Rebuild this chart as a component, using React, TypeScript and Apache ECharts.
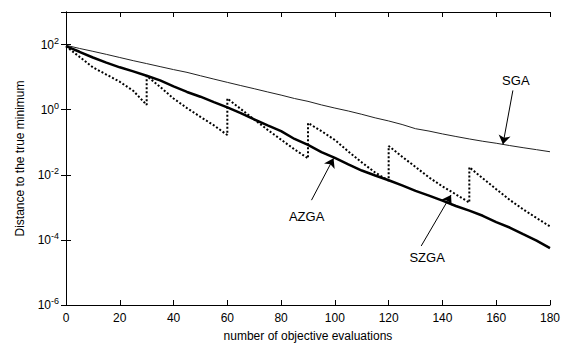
import React, { useEffect, useRef } from "react";
import * as echarts from "echarts";

// Evaluations (x) and distances to the true minimum (y)
const sgaEvals = [0, 5, 10, 15, 20, 25, 30, 35, 40, 45, 50, 55, 60, 65, 70, 75, 80, 85, 90, 95, 100, 105, 110, 115, 120, 125, 130, 135, 140, 145, 150, 155, 160, 165, 170, 175, 180];
const sgaValues = [95, 76, 62, 50, 40, 32, 26, 21, 17, 14, 11, 8.7, 6.9, 5.5, 4.4, 3.5, 2.8, 2.2, 1.8, 1.4, 1.12, 0.91, 0.72, 0.56, 0.45, 0.35, 0.26, 0.22, 0.18, 0.15, 0.126, 0.107, 0.093, 0.079, 0.068, 0.059, 0.051];

const azgaEvals = [0, 5, 10, 15, 20, 25, 30, 35, 40, 45, 50, 55, 60, 65, 70, 75, 80, 85, 90, 95, 100, 105, 110, 115, 120, 125, 130, 135, 140, 145, 150, 155, 160, 165, 170, 175, 180];
const azgaValues = [89, 60, 40, 28, 20, 15, 11, 7.9, 5.2, 3.5, 2.5, 1.7, 1.17, 0.78, 0.5, 0.33, 0.22, 0.126, 0.083, 0.05, 0.033, 0.021, 0.0135, 0.0095, 0.0068, 0.0047, 0.0032, 0.0023, 0.0016, 0.0011, 0.00079, 0.00055, 0.00035, 0.00024, 0.00015, 0.000095, 0.000056];

const szgaEvals = [0, 5, 10, 15, 20, 25, 30, 30, 35, 40, 45, 50, 55, 60, 60, 65, 70, 75, 80, 85, 90, 90, 95, 100, 105, 110, 115, 120, 120, 125, 130, 135, 140, 145, 150, 150, 155, 160, 165, 170, 175, 180];
const szgaValues = [89, 42, 20, 12, 7.2, 3.8, 1.4, 11, 5.0, 2.2, 1.12, 0.6, 0.33, 0.166, 2.2, 1.05, 0.5, 0.24, 0.12, 0.06, 0.032, 0.39, 0.22, 0.117, 0.052, 0.024, 0.0117, 0.0066, 0.077, 0.036, 0.0174, 0.0083, 0.0044, 0.0025, 0.0014, 0.017, 0.0078, 0.0036, 0.0017, 0.00087, 0.00047, 0.00026];

const xTickValues = [0, 20, 40, 60, 80, 100, 120, 140, 160, 180];

// Annotation texts and their arrows (data coordinates)
const annotationTexts = ["SGA", "AZGA", "SZGA"];
const annotationTextAt = [[167.3, 7.7], [89.5, 5.2e-4], [134.3, 2.8e-5]];
const annotationArrowFrom = [[166.2, 3.9], [91.3, 1.66e-3], [132.1, 6.5e-5]];
const annotationArrowTo = [[162.5, 0.086], [99.5, 0.032], [143.2, 0.0024]];

const FONT = '"Liberation Sans", Arial, sans-serif';

export default function App() {
  const ref = useRef<HTMLDivElement>(null);
  useEffect(() => {
    if (!ref.current) return;
    const chart = echarts.init(ref.current, null, { renderer: "svg" });
    const zip = (xs: number[], ys: number[]) => xs.map((x, i) => [x, ys[i]]);
    const yLabel = (v: number) => {
      const e = Math.round(Math.log10(v));
      if (e % 2 !== 0 || e > 2) return "";
      return `{b|10}{s|${e}}`;
    };
    const tickStyle = { inside: true, length: 5, lineStyle: { color: "#000", width: 1 } };
    chart.setOption({
      animation: false,
      backgroundColor: "#fff",
      grid: { left: 66, right: 11, top: 12, bottom: 37, containLabel: false },
      xAxis: [
        {
          type: "value",
          min: 0,
          max: 180,
          interval: 20,
          position: "bottom",
          axisLine: { show: true, lineStyle: { color: "#000", width: 1 } },
          axisTick: tickStyle,
          splitLine: { show: false },
          axisLabel: {
            color: "#000",
            fontSize: 12,
            fontFamily: FONT,
            margin: 7,
            formatter: (v: number) => (xTickValues.includes(v) ? String(v) : ""),
          },
          name: "number of objective evaluations",
          nameLocation: "middle",
          nameGap: 25,
          nameTextStyle: { color: "#000", fontSize: 12, fontFamily: FONT },
        },
        {
          type: "value",
          min: 0,
          max: 180,
          interval: 20,
          position: "top",
          axisLine: { show: true, lineStyle: { color: "#000", width: 1 } },
          axisTick: tickStyle,
          splitLine: { show: false },
          axisLabel: { show: false },
        },
      ],
      yAxis: [
        {
          type: "log",
          logBase: 10,
          min: 1e-6,
          max: 1e3,
          interval: 2,
          position: "left",
          axisLine: { show: true, lineStyle: { color: "#000", width: 1 } },
          axisTick: tickStyle,
          splitLine: { show: false },
          axisLabel: {
            color: "#000",
            margin: 7,
            formatter: yLabel,
            rich: {
              b: { fontSize: 12, fontFamily: FONT, color: "#000" },
              s: { fontSize: 9, fontFamily: FONT, color: "#000", padding: [0, 0, 8, 0] },
            },
          },
          name: "Distance to the true minimum",
          nameLocation: "middle",
          nameGap: 40,
          nameTextStyle: { color: "#000", fontSize: 12, fontFamily: FONT },
        },
        {
          type: "log",
          logBase: 10,
          min: 1e-6,
          max: 1e3,
          interval: 2,
          position: "right",
          axisLine: { show: true, lineStyle: { color: "#000", width: 1 } },
          axisTick: tickStyle,
          splitLine: { show: false },
          axisLabel: { show: false },
        },
      ],
      series: [
        {
          name: "SGA",
          type: "line",
          data: zip(sgaEvals, sgaValues),
          showSymbol: false,
          symbol: "none",
          lineStyle: { color: "#222", width: 1 },
          markLine: {
            silent: true,
            symbol: ["none", "arrow"],
            symbolSize: 9,
            label: { show: false },
            itemStyle: { color: "#000" },
            lineStyle: { color: "#000", width: 1, type: "solid" },
            data: annotationArrowFrom.map((f, i) => [{ coord: f }, { coord: annotationArrowTo[i] }]),
          },
        },
        {
          name: "AZGA",
          type: "line",
          data: zip(azgaEvals, azgaValues),
          showSymbol: false,
          symbol: "none",
          lineStyle: { color: "#000", width: 2.5 },
        },
        {
          name: "SZGA",
          type: "line",
          data: zip(szgaEvals, szgaValues),
          showSymbol: false,
          symbol: "none",
          lineStyle: { color: "#000", width: 2, type: [2, 2] },
        },
      ],
    });
    const graphic = annotationTexts.map((t, i) => {
      const p = chart.convertToPixel({ gridIndex: 0 }, annotationTextAt[i]) as number[];
      return {
        type: "text",
        x: p[0],
        y: p[1],
        style: {
          text: t,
          fill: "#000",
          fontSize: 13,
          fontFamily: FONT,
          align: "center",
          verticalAlign: "middle",
        },
      };
    });
    chart.setOption({ graphic });
    return () => chart.dispose();
  }, []);
  return <div ref={ref} style={{ position: "fixed", left: 0, top: 0, width: 563, height: 347 }} />;
}
